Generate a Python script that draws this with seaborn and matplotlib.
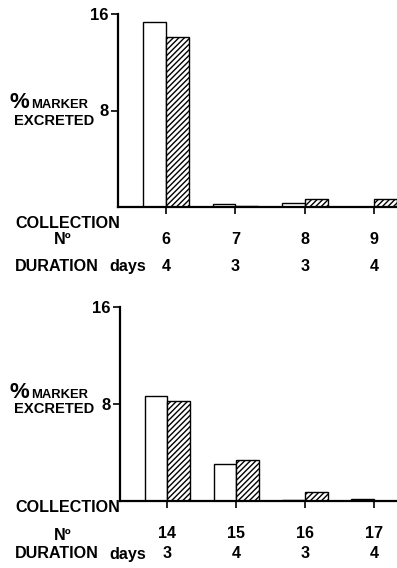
import matplotlib
matplotlib.use("Agg")
import matplotlib.pyplot as plt
import matplotlib.transforms as mtransforms
import seaborn as sns
import pandas as pd

# ---- data ----
top_collections = ["6", "7", "8", "9"]
top_durations = ["4", "3", "3", "4"]
top_open = [15.36, 0.22, 0.3, 0.0]
top_hatched = [14.1, 0.12, 0.65, 0.65]

bot_collections = ["14", "15", "16", "17"]
bot_durations = ["3", "4", "3", "4"]
bot_open = [8.7, 3.06, 0.12, 0.18]
bot_hatched = [8.24, 3.4, 0.72, 0.0]

series_names = ["open", "hatched"]
yticks = [8, 16]

sns.set_theme(style="ticks", rc={"text.color": "black", "xtick.color": "black",
                                 "ytick.color": "black", "axes.edgecolor": "black"})
plt.rcParams["font.family"] = ["Liberation Sans", "DejaVu Sans"]
plt.rcParams["hatch.linewidth"] = 1.0

W, H = 397, 568
fig = plt.figure(figsize=(W / 100, H / 100), dpi=100)

def px_axes(left, top, right, bottom):
    return fig.add_axes([left / W, 1 - bottom / H, (right - left) / W, (bottom - top) / H])

def fy(y):
    return 1 - y / H

LBL = 11.6

def panel(ax, cols, durs, v_open, v_hatch, ypos):
    y_coll, y_no, y_num, y_dur = ypos
    df = pd.DataFrame({
        "collection": cols * 2,
        "group": [series_names[0]] * len(cols) + [series_names[1]] * len(cols),
        "value": list(v_open) + list(v_hatch),
    })
    sns.barplot(data=df, x="collection", y="value", hue="group", order=cols,
                hue_order=series_names, width=0.66, ax=ax,
                palette=["white", "white"], edgecolor="black", linewidth=1.0,
                saturation=1, legend=False, errorbar=None)
    for p in ax.containers[1]:
        p.set_hatch("//////")
    ax.set_ylim(0, 16)
    ax.set_xlim(-0.693, 3.33)
    ax.set_yticks(yticks)
    ax.tick_params(axis="both", length=5, width=1.2, color="black")
    ax.tick_params(axis="y", pad=1.5)
    ax.set_yticklabels([str(t) for t in yticks], fontsize=12, fontweight="bold")
    ax.set_xticks(range(len(cols)))
    ax.set_xticklabels([])
    ax.set_xlabel("")
    ax.set_ylabel("")
    ax.set_facecolor("white")
    sns.despine(ax=ax)
    for s in ["left", "bottom"]:
        ax.spines[s].set_linewidth(1.6)
        ax.spines[s].set_color("black")
    trans = mtransforms.blended_transform_factory(ax.transData, fig.transFigure)
    for i, (c, d) in enumerate(zip(cols, durs)):
        ax.text(i, fy(y_num), c, transform=trans, ha="center", va="center",
                fontsize=LBL, fontweight="bold")
        ax.text(i, fy(y_dur), d, transform=trans, ha="center", va="center",
                fontsize=LBL, fontweight="bold")
    fig.text(15 / W, fy(y_coll), "COLLECTION", ha="left", va="center",
             fontsize=LBL, fontweight="bold")
    fig.text(54 / W, fy(y_no), "Nº", ha="left", va="center",
             fontsize=LBL, fontweight="bold")
    fig.text(15 / W, fy(y_dur), "DURATION", ha="left", va="center",
             fontsize=LBL, fontweight="bold")
    fig.text(109 / W, fy(y_dur), "days", ha="left", va="center",
             fontsize=LBL, fontweight="bold")

def ylabel(y_base1, y_base2):
    fig.text(9 / W, fy(y_base1), "%", ha="left", va="baseline",
             fontsize=16, fontweight="bold")
    fig.text(31 / W, fy(y_base1), "MARKER", ha="left", va="baseline",
             fontsize=9.4, fontweight="bold")
    fig.text(14 / W, fy(y_base2), "EXCRETED", ha="left", va="baseline",
             fontsize=10.6, fontweight="bold")

ax1 = px_axes(118, 14, 397, 207)
panel(ax1, top_collections, top_durations, top_open, top_hatched,
      (223.5, 240, 240, 266.5))
ylabel(108, 125)

ax2 = px_axes(119.5, 307, 397, 501)
panel(ax2, bot_collections, bot_durations, bot_open, bot_hatched,
      (508, 535, 534, 554))
ylabel(398, 413)

fig.savefig("out.png", dpi=100, facecolor="white")
